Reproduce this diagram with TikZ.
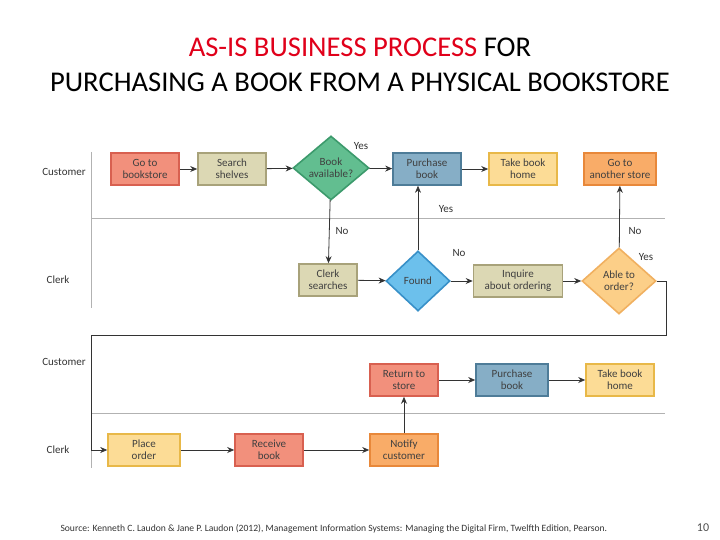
\documentclass[tikz,border=0pt]{standalone}
\usepackage{fontspec}
\setmainfont{Carlito}
\usetikzlibrary{shapes.geometric,arrows.meta}
\definecolor{redf}{HTML}{F2907C}\definecolor{redd}{HTML}{D86050}
\definecolor{tanf}{HTML}{DCD8B4}\definecolor{tand}{HTML}{A8A27A}
\definecolor{grnf}{HTML}{62BE90}\definecolor{grnd}{HTML}{3C9A6C}
\definecolor{bluf}{HTML}{86AEC6}\definecolor{blud}{HTML}{4E7C98}
\definecolor{yelf}{HTML}{FCDC96}\definecolor{yeld}{HTML}{E8B848}
\definecolor{orf}{HTML}{F9AC68}\definecolor{ord}{HTML}{E8883A}
\definecolor{bdf}{HTML}{6CC0EC}\definecolor{bdd}{HTML}{3890C8}
\definecolor{odf}{HTML}{FCCF88}\definecolor{odd}{HTML}{F0B060}
\definecolor{titred}{HTML}{E0001A}
\tikzset{
 box/.style={rectangle,draw=#1d,line width=1.6pt,fill=#1f,minimum width=68pt,minimum height=32pt,inner sep=1pt,align=center,font=\fontsize{11}{12}\selectfont,text=black!75},
 dia/.style={diamond,draw=#1d,line width=1.6pt,fill=#1f,aspect=1.2,inner sep=0pt,align=center,font=\fontsize{11}{12}\selectfont,text=black!75},
 arr/.style={-{Stealth[length=7pt,width=6pt]},black!80,line width=0.8pt},
 lane/.style={black!30,line width=0.8pt},
 lbl/.style={font=\fontsize{11}{12}\selectfont,text=black!80},
 lab/.style={font=\fontsize{11}{12}\selectfont,text=black!80}
}
\begin{document}
\begin{tikzpicture}[x=1pt,y=-1pt]
\useasboundingbox (0,0) rectangle (720,540);
\node[align=center,font=\fontsize{28.6}{35}\selectfont] (title) at (360,65) {\textcolor{titred}{AS-IS BUSINESS PROCESS} FOR\\PURCHASING A BOOK FROM A PHYSICAL BOOKSTORE};
% lanes
\draw[lane] (91,152) -- (91,308);
\draw[lane] (91,335) -- (91,468);
\draw[lane] (91,218) -- (665,218);
\draw[lane] (91,413) -- (665,413);
\node[lab] (l1) at (64,172) {Customer};
\node[lab] (l2) at (58,280) {Clerk};
\node[lab] (l3) at (64,362) {Customer};
\node[lab] (l4) at (58,450) {Clerk};
% nodes
\node[box=red] (go) at (145,169) {Go to\\bookstore};
\node[box=tan] (search) at (232,169) {Search\\shelves};
\node[dia=grn,minimum width=76pt,minimum height=64pt] (avail) at (331,168) {Book\\available?};
\node[box=blu] (buy) at (427,169) {Purchase\\book};
\node[box=yel] (home) at (523,169) {Take book\\home};
\node[box=or,minimum width=72pt] (other) at (620,169) {Go to\\another store};
\node[box=tan,minimum width=58pt] (clerk) at (328,280) {Clerk\\searches};
\node[dia=bd,minimum width=64pt,minimum height=60pt] (found) at (418,281) {Found};
\node[box=tan,minimum width=89pt] (inq) at (518,281) {Inquire\\about ordering};
\node[dia=od,minimum width=74pt,minimum height=66pt] (able) at (619,281) {Able to\\order?};
\node[box=red] (ret) at (404,380) {Return to\\store};
\node[box=blu,minimum width=72pt] (buy2) at (512,380) {Purchase\\book};
\node[box=yel] (home2) at (620,380) {Take book\\home};
\node[box=yel,minimum width=72pt] (place) at (144,450) {Place\\order};
\node[box=red] (recv) at (269,450) {Receive\\book};
\node[box=or] (notify) at (404,450) {Notify\\customer};
% arrows
\draw[arr] (go) -- (search);
\draw[arr] (search) -- (avail);
\draw[arr] (avail) -- (buy);
\draw[arr] (buy) -- (home);
\draw[arr] (avail) -- (clerk);
\draw[arr] (clerk) -- (found);
\draw[arr,line width=0.6pt] (found.north) -- (found.north |- buy.south);
\draw[arr] (found) -- (inq);
\draw[arr] (inq) -- (able);
\draw[arr] (able) -- (other);
\coordinate (c1) at (666,281);
\coordinate (c2) at (666,335);
\coordinate (c3) at (91,335);
\coordinate (c4) at (91,450);
\draw[arr,line width=0.6pt] (able.east) -- (c1) -- (c2) -- (c3) -- (c4) -- (place);
\draw[arr] (place) -- (recv);
\draw[arr] (recv) -- (notify);
\draw[arr] (notify) -- (ret);
\draw[arr] (ret) -- (buy2);
\draw[arr] (buy2) -- (home2);
% branch labels
\node[lbl] (y1) at (361,146) {Yes};
\node[lbl] (y2) at (446,209) {Yes};
\node[lbl] (n1) at (342,231) {No};
\node[lbl] (n2) at (459,253) {No};
\node[lbl] (n3) at (635,231) {No};
\node[lbl] (y3) at (646,257) {Yes};
\node[anchor=west,font=\fontsize{9.6}{10}\selectfont,text=black!80] (src) at (57,529) {Source: Kenneth C. Laudon \& Jane P. Laudon (2012), Management Information Systems: Managing the Digital Firm, Twelfth Edition, Pearson.};
\node[font=\fontsize{12}{13}\selectfont,text=black!70] (pg) at (703,528) {10};
\end{tikzpicture}
\end{document}
